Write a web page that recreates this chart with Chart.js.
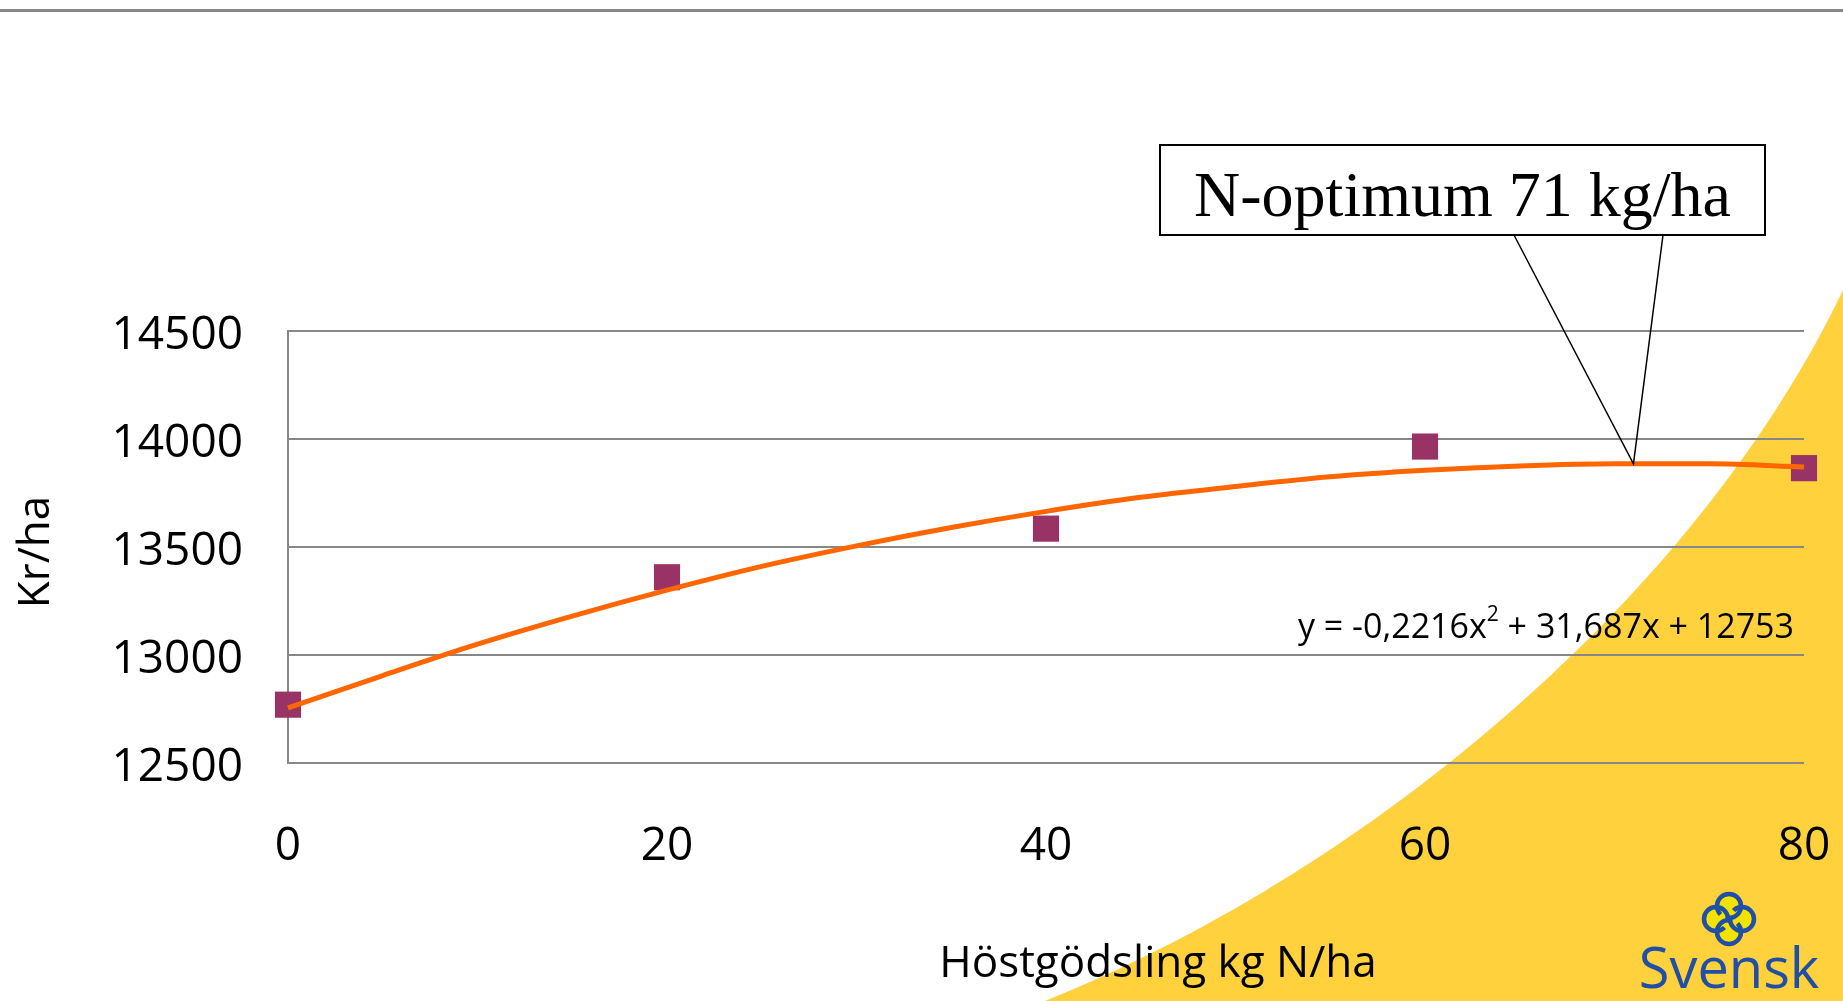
<!DOCTYPE html>
<html>
<head>
<meta charset="utf-8">
<title>Höstgödsling</title>
<script src="https://cdn.jsdelivr.net/npm/chart.js@4.4.0/dist/chart.umd.min.js"></script>
<style>
  html, body { margin: 0; padding: 0; background: #fff; }
  #wrap { width: 1843px; height: 1001px; }
</style>
</head>
<body>
<div id="wrap"><canvas id="chart" width="1843" height="1001"></canvas></div>
<script>
// observed points (kg N/ha -> kr/ha)
const nLevels = [0, 20, 40, 60, 80];
const krPerHa = [12770, 13360, 13585, 13965, 13865];

// trend line
const trendX = [0, 5, 10, 15, 20, 25, 30, 35, 40, 45, 50, 55, 60, 65, 70, 75, 80];
const trendY = [12755, 12905, 13050, 13180, 13300, 13410, 13505, 13590, 13665, 13730, 13780, 13825, 13855, 13875, 13885, 13885, 13870];

const xTicks = [0, 20, 40, 60, 80];
const yTicks = [12500, 13000, 13500, 14000, 14500];

const optimumN = 71;
const optimumKr = 13885;
const calloutText = 'N-optimum 71 kg/ha';
const equationParts = ['y = -0,2216x', '2', ' + 31,687x + 12753'];
const xTitle = 'Höstgödsling kg N/ha';
const yTitle = 'Kr/ha';
const logoText = 'Svensk';

const FONT = "'Open Sans', 'Noto Sans', sans-serif";
Chart.defaults.font.family = FONT;
Chart.defaults.color = '#000';

const gridGray = '#878787';
const yellow = '#FED13D';
const logoBlue = '#1F4FA6';

// white page, top rule and the yellow swoosh behind the plot
const background = {
  id: 'background',
  beforeDraw(chart) {
    const ctx = chart.ctx;
    ctx.save();
    ctx.fillStyle = '#fff';
    ctx.fillRect(0, 0, chart.width, chart.height);

    ctx.strokeStyle = gridGray;
    ctx.lineWidth = 3;
    ctx.beginPath();
    ctx.moveTo(0, 10.5);
    ctx.lineTo(chart.width, 10.5);
    ctx.stroke();

    ctx.fillStyle = yellow;
    ctx.beginPath();
    ctx.moveTo(1045, 1001);
    ctx.bezierCurveTo(1350, 880, 1690, 610, 1843, 290);
    ctx.lineTo(1843, 1001);
    ctx.closePath();
    ctx.fill();
    ctx.restore();
  }
};

// callout, equation, axis titles and the logo
const decorations = {
  id: 'decorations',
  afterDraw(chart) {
    const ctx = chart.ctx;
    const xs = chart.scales.x, ys = chart.scales.y;
    ctx.save();

    // callout box with pointer to the optimum
    const bx = 1160, by = 145, bw = 605, bh = 90;
    const tipX = xs.getPixelForValue(optimumN);
    const tipY = ys.getPixelForValue(optimumKr);
    ctx.fillStyle = '#fff';
    ctx.fillRect(bx, by, bw, bh);
    ctx.strokeStyle = '#000';
    ctx.lineWidth = 2;
    ctx.strokeRect(bx, by, bw, bh);
    ctx.lineWidth = 1.5;
    ctx.beginPath();
    ctx.moveTo(1514, by + bh);
    ctx.lineTo(tipX, tipY);
    ctx.lineTo(1663, by + bh);
    ctx.stroke();
    ctx.fillStyle = '#000';
    ctx.font = "64px 'Liberation Serif', 'Times New Roman', serif";
    ctx.textAlign = 'center';
    ctx.textBaseline = 'alphabetic';
    ctx.fillText(calloutText, bx + bw / 2, 216);

    // trend equation, right aligned
    ctx.textAlign = 'left';
    const big = '34px ' + FONT, small = '21px ' + FONT;
    ctx.font = big;
    const w0 = ctx.measureText(equationParts[0]).width;
    const w2 = ctx.measureText(equationParts[2]).width;
    ctx.font = small;
    const w1 = ctx.measureText(equationParts[1]).width;
    let ex = 1794 - (w0 + w1 + w2);
    ctx.font = big;
    ctx.fillText(equationParts[0], ex, 638);
    ex += w0;
    ctx.font = small;
    ctx.fillText(equationParts[1], ex, 621);
    ex += w1;
    ctx.font = big;
    ctx.fillText(equationParts[2], ex, 638);

    // axis titles
    ctx.font = '44px ' + FONT;
    ctx.textAlign = 'center';
    ctx.textBaseline = 'middle';
    ctx.fillText(xTitle, 1158, 964);
    ctx.save();
    ctx.translate(36, 552);
    ctx.rotate(-Math.PI / 2);
    ctx.fillText(yTitle, 0, 0);
    ctx.restore();

    // logo: four lobes with a pinwheel inside, then the name
    const cx = 1729, cy = 919;
    ctx.fillStyle = '#F3E300';
    for (let i = 0; i < 4; i++) {
      const a = -Math.PI / 2 + i * Math.PI / 2;
      ctx.beginPath();
      ctx.arc(cx + Math.cos(a) * 13, cy + Math.sin(a) * 13, 12, 0, Math.PI * 2);
      ctx.fill();
    }
    ctx.lineWidth = 4.5;
    ctx.strokeStyle = logoBlue;
    for (let i = 0; i < 4; i++) {
      const a = -Math.PI / 2 + i * Math.PI / 2;
      ctx.beginPath();
      ctx.arc(cx + Math.cos(a) * 13, cy + Math.sin(a) * 13, 12, a - Math.PI * 0.75, a + Math.PI);
      ctx.stroke();
    }
    ctx.fillStyle = logoBlue;
    ctx.font = '56px ' + FONT;
    ctx.textAlign = 'center';
    ctx.textBaseline = 'alphabetic';
    ctx.fillText(logoText, 1729, 988);

    ctx.restore();
  }
};

new Chart(document.getElementById('chart'), {
  type: 'scatter',
  data: {
    datasets: [
      {
        label: 'Trend',
        data: trendX.map((x, i) => ({x: x, y: trendY[i]})),
        showLine: true,
        borderColor: '#FF6600',
        borderWidth: 5,
        pointRadius: 0,
        cubicInterpolationMode: 'monotone',
        order: 0,
        clip: false
      },
      {
        label: 'Kr/ha',
        data: nLevels.map((x, i) => ({x: x, y: krPerHa[i]})),
        pointStyle: 'rect',
        pointRadius: 18.5,
        backgroundColor: '#993366',
        borderWidth: 0,
        order: 1,
        clip: false
      }
    ]
  },
  options: {
    responsive: false,
    animation: false,
    layout: {padding: {top: 331, right: 39, left: 0, bottom: 0}},
    plugins: {legend: {display: false}, tooltip: {enabled: false}},
    scales: {
      x: {
        type: 'linear',
        min: 0, max: 80,
        afterBuildTicks: s => { s.ticks = xTicks.map(v => ({value: v})); },
        afterFit: s => { s.height = 238; s.paddingLeft = 0; s.paddingRight = 0; },
        grid: {display: false},
        border: {display: false},
        ticks: {font: {size: 46}, padding: 48, callback: v => String(v), maxRotation: 0}
      },
      y: {
        min: 12500, max: 14500,
        afterBuildTicks: s => { s.ticks = yTicks.map(v => ({value: v})); },
        afterFit: s => { s.width = 288; s.paddingTop = 0; s.paddingBottom = 0; },
        grid: {color: gridGray, lineWidth: 2, drawTicks: false},
        border: {display: true, color: gridGray, width: 2},
        ticks: {font: {size: 46}, padding: 45, labelOffset: 5, callback: v => String(v)}
      }
    }
  },
  plugins: [background, decorations]
});
</script>
</body>
</html>
